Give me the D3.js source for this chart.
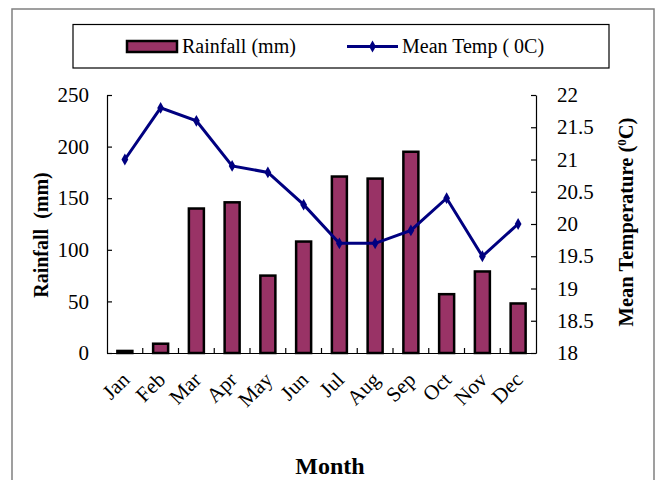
<!DOCTYPE html>
<html><head><meta charset="utf-8">
<script src="https://cdn.jsdelivr.net/npm/d3@7"></script>
<style>
body{margin:0;background:#fff;}
svg{display:block;font-family:"Liberation Serif","Times New Roman",serif;}
</style></head>
<body><svg id="c" width="655" height="480"></svg>
<script>
const months = ["Jan","Feb","Mar","Apr","May","Jun","Jul","Aug","Sep","Oct","Nov","Dec"];
const rainfall = [2, 9, 140, 146, 75, 108, 171, 169, 195, 57, 79, 48];
const meanTemp = [21.0, 21.8, 21.6, 20.9, 20.8, 20.3, 19.7, 19.7, 19.9, 20.4, 19.5, 20.0];
const rainTicks = [0, 50, 100, 150, 200, 250];
const tempTicks = [18, 18.5, 19, 19.5, 20, 20.5, 21, 21.5, 22];

const svg = d3.select("#c");
const L = 107, R = 536, T = 95, B = 353;

// outer frame
svg.append("path").attr("d", "M12,480V9H654V480").attr("fill","none").attr("stroke","#808080").attr("stroke-width",1.5);

const x = d3.scaleBand().domain(months).range([L, R]);
const yL = d3.scaleLinear().domain([0, 250]).range([B, T]);
const yR = d3.scaleLinear().domain([18, 22]).range([B, T]);

// bars
const bw = 15;
svg.append("g").selectAll("rect").data(months).join("rect")
  .attr("x", (d) => x(d) + x.bandwidth()/2 - bw/2)
  .attr("y", (d,i) => yL(rainfall[i]))
  .attr("width", bw)
  .attr("height", (d,i) => B - yL(rainfall[i]))
  .attr("fill", "#993366").attr("stroke", "#000").attr("stroke-width", 2.5);

// left axis
const gL = svg.append("g").attr("transform", `translate(${L},0)`)
  .call(d3.axisLeft(yL).tickValues(rainTicks).tickSizeInner(-5).tickSizeOuter(0).tickPadding(18));
// right axis
const gR = svg.append("g").attr("transform", `translate(${R},0)`)
  .call(d3.axisRight(yR).tickValues(tempTicks).tickSizeInner(-5).tickSizeOuter(0).tickPadding(21).tickFormat(d3.format("")));
// bottom axis
const gB = svg.append("g").attr("transform", `translate(0,${B})`)
  .call(d3.axisBottom(x).tickSize(0).tickSizeOuter(0));
[gL, gR, gB].forEach(g => {
  g.select(".domain").attr("stroke", "#000").attr("stroke-width", 1.2);
  g.selectAll(".tick line").attr("stroke", "#000").attr("stroke-width", 1.2);
  g.selectAll("text").attr("font-family", "Liberation Serif").attr("font-size", 21).attr("fill", "#000");
});
// category boundary ticks
svg.append("g").selectAll("line").data(months.slice(1)).join("line")
  .attr("x1", d => x(d)).attr("x2", d => x(d)).attr("y1", B).attr("y2", B - 5)
  .attr("stroke", "#000").attr("stroke-width", 1.2);
gB.selectAll(".tick text")
  .attr("text-anchor", "end")
  .attr("dy", 0).attr("y", 0)
  .attr("transform", "translate(6,28) rotate(-45)");

// temperature line
const line = d3.line().x((d,i) => x(months[i]) + x.bandwidth()/2).y(d => yR(d));
svg.append("path").datum(meanTemp).attr("d", line)
  .attr("fill","none").attr("stroke","#000080").attr("stroke-width",3);
const diamond = d3.symbol().type(d3.symbolDiamond).size(40);
svg.append("g").selectAll("path").data(meanTemp).join("path")
  .attr("d", diamond)
  .attr("transform", (d,i) => `translate(${x(months[i]) + x.bandwidth()/2},${yR(d)})`)
  .attr("fill","#000080");

// axis titles
svg.append("text").attr("transform", "translate(48,235) rotate(-90)")
  .attr("text-anchor","middle").attr("font-weight","bold").attr("font-size",20)
  .attr("xml:space","preserve")
  .text("Rainfall  (mm)");
const rt = svg.append("text").attr("transform", "translate(633,222) rotate(-90)")
  .attr("text-anchor","middle").attr("font-weight","bold").attr("font-size",20.5);
rt.append("tspan").text("Mean Temperature (");
rt.append("tspan").attr("font-size",13).attr("dy",-7).text("0");
rt.append("tspan").attr("dy",7).text("C)");
svg.append("text").attr("x",330).attr("y",474).attr("text-anchor","middle")
  .attr("font-weight","bold").attr("font-size",24).text("Month");

// legend
const lg = svg.append("g");
lg.append("rect").attr("x",73).attr("y",24.5).attr("width",536).attr("height",43.5)
  .attr("fill","#fff").attr("stroke","#000").attr("stroke-width",1.2);
lg.append("rect").attr("x",127).attr("y",41).attr("width",50).attr("height",11)
  .attr("fill","#993366").attr("stroke","#000").attr("stroke-width",2.5);
lg.append("text").attr("x",182).attr("y",53).attr("font-size",20).text("Rainfall (mm)");
lg.append("line").attr("x1",347).attr("x2",398).attr("y1",46.5).attr("y2",46.5)
  .attr("stroke","#000080").attr("stroke-width",3);
lg.append("path").attr("d",diamond).attr("transform","translate(372.5,46.5)").attr("fill","#000080");
lg.append("text").attr("x",402).attr("y",53).attr("font-size",20).text("Mean Temp ( 0C)");
</script></body></html>
